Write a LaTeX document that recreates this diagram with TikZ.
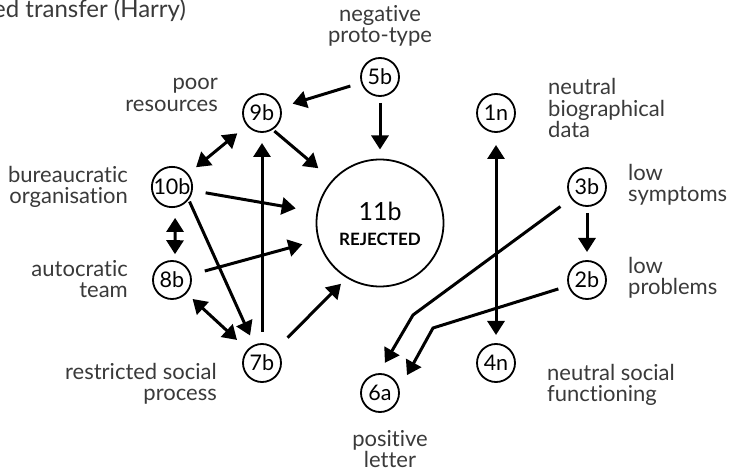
\documentclass[tikz,border=0pt]{standalone}
\usepackage{fontspec}
\setmainfont{Lato}[Ligatures={NoCommon,NoRequired}]
\usetikzlibrary{arrows.meta}
\definecolor{labelgray}{HTML}{3A3A3A}

\begin{document}
\begin{tikzpicture}[x=1pt,y=-1pt,
  nd/.style={circle,draw,line width=1.8pt,minimum size=38pt,inner sep=0pt,outer sep=0pt,
    font=\fontsize{21.5}{21.5}\selectfont},
  lbl/.style={text=labelgray,font=\fontsize{22}{21.5}\selectfont,inner sep=0pt},
  arr/.style={line width=3pt,-{Triangle[length=14pt,width=17pt]}},
  darr/.style={line width=3pt,{Triangle[length=14pt,width=17pt]}-{Triangle[length=14pt,width=17pt]}}]

\fill[white] (0,0) rectangle (729,473);
\useasboundingbox (0,0) rectangle (729,473);

% title (runs off the left edge)
\node[lbl,anchor=west,font=\fontsize{24}{24}\selectfont] (title) at (-7,10) {ed transfer (Harry)};

% state nodes
\node[nd] (5b) at (380,77) {5b};
\node[nd] (9b) at (262,113) {9b};
\node[nd] (1n) at (496,113) {1n};
\node[nd] (10b) at (172,187) {10b};
\node[nd] (3b) at (587,187) {3b};
\node[nd,minimum size=127pt,line width=1.8pt] (11b) at (380,223) {};
\node (11t) at (380,211) {\fontsize{25}{25}\selectfont 11b};
\node (11r) at (380,239) {\fontsize{17}{17}\selectfont\bfseries REJECTED};
\node[nd] (8b) at (172,280) {8b};
\node[nd] (2b) at (587,280) {2b};
\node[nd] (7b) at (262,363) {7b};
\node[nd] (4n) at (496,363) {4n};
\node[nd] (6a) at (380,393) {6a};

% descriptions
\node[lbl,align=center] (l5b) at (380,26) {negative\\proto-type};
\node[lbl,align=right,anchor=east] (l9b) at (218,95) {poor\\resources};
\node[lbl,align=left,anchor=west] (l1n) at (548,108) {neutral\\biographical\\data};
\node[lbl,align=right,anchor=east] (l10b) at (128,187) {bureaucratic\\organisation};
\node[lbl,align=left,anchor=west] (l3b) at (628,185) {low\\symptoms};
\node[lbl,align=right,anchor=east] (l8b) at (128,279) {autocratic\\team};
\node[lbl,align=left,anchor=west] (l2b) at (628,278) {low\\problems};
\node[lbl,align=right,anchor=east] (l7b) at (217,384) {restricted social\\process};
\node[lbl,align=left,anchor=west] (l4n) at (547,385) {neutral social\\functioning};
\node[lbl,align=center] (l6a) at (390,449) {positive\\letter};

% bends of the two long connectors
\coordinate (b1) at (413,315);
\coordinate (b2) at (433,328);

% connectors
\draw[arr,shorten <=12pt,shorten >=13pt] (5b) -- (9b);
\draw[arr,shorten <=7pt,shorten >=10pt] (5b) -- (11b);
\draw[arr,shorten <=3pt,shorten >=19pt] (9b.-58) -- (11b.138);
\draw[darr,shorten <=13pt,shorten >=11pt] (9b) -- (10b);
\draw[arr,shorten <=14pt,shorten >=22pt] (10b) -- (11b);
\draw[arr,shorten <=3pt,shorten >=11pt] (10b.-36) -- (7b.113);
\draw[darr,shorten <=11pt,shorten >=7pt] (10b.-81) -- (8b.81);
\draw[arr,shorten <=15pt,shorten >=17pt] (8b) -- (11b);
\draw[darr,shorten <=9pt,shorten >=15pt] (8b) -- (7b);
\draw[arr,shorten <=12pt,shorten >=11pt] (7b) -- (9b);
\draw[arr,shorten <=17pt,shorten >=9pt] (7b.44) -- (11b.239);
\draw[darr,shorten <=13pt,shorten >=9pt] (1n) -- (4n);
\draw[arr,shorten <=7pt,shorten >=9pt] (3b) -- (2b);
\draw[arr,shorten <=14pt,shorten >=13pt] (3b) -- (b1) -- (6a.95);
\draw[arr,shorten <=11pt,shorten >=17pt] (2b) -- (b2) -- (6a.9);
\end{tikzpicture}
\end{document}
